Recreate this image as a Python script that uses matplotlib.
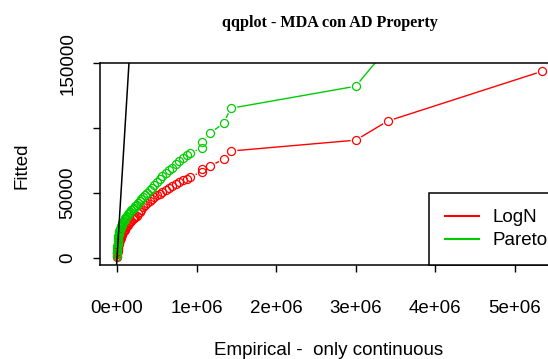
"""
Q-Q plot of the MDA sample against fitted LogN and Pareto quantiles.

"""
import matplotlib
matplotlib.use("Agg")
import matplotlib.pyplot as plt
import numpy as np

# empirical quantiles (sorted sample), shared by both fits
empirical = np.array([
    0, 1, 2, 3, 5, 7, 9, 12, 15, 18, 22, 26, 30, 35, 40, 46, 52, 60, 68,
    76, 85, 95, 105, 116, 128, 140, 152, 165, 180, 195, 210, 228, 246,
    265, 285, 305, 330, 355, 380, 410, 440, 470, 500, 535, 570, 610, 650,
    690, 735, 780, 830, 880, 920, 1070, 1070, 1170, 1340, 1430, 3000,
    3400, 5340]) * 1e3

# fitted quantiles, lognormal
fitted_logn = np.array([
    0.5, 1.5, 2.5, 3.5, 4.5, 5.5, 6.5, 7.5, 8.5, 9.5, 10.5, 11.5, 12.5,
    13.5, 14.5, 15.5, 16.5, 17.5, 18.5, 19.5, 20.5, 21.5, 22.5, 23.5,
    24.5, 25.5, 26.5, 27.5, 28.5, 29.5, 30.5, 31.5, 32.5, 34.5, 35.5,
    37.0, 39.0, 40.5, 42.0, 43.5, 45.0, 46.5, 48.0, 49.5, 51.0, 52.5,
    54.0, 55.5, 57.0, 58.5, 60.0, 61.0, 62.3, 66.5, 68.5, 70.7, 76.1,
    82.3, 90.7, 105.4, 143.8]) * 1e3

# fitted quantiles, Pareto
fitted_pareto = np.array([
    1.5, 4.0, 6.0, 7.5, 9.0, 10.5, 12.0, 13.5, 15.0, 16.5, 18.0, 19.5,
    20.5, 21.5, 22.5, 23.5, 24.5, 25.5, 26.5, 27.5, 28.5, 29.5, 30.5,
    31.5, 32.5, 33.5, 34.5, 35.5, 36.5, 37.5, 38.5, 40.0, 41.0, 42.5,
    44.0, 45.5, 47.0, 48.5, 50.0, 52.0, 54.0, 56.0, 58.5, 61.0, 63.0,
    65.5, 67.5, 69.5, 72.0, 75.0, 77.0, 79.0, 81.0, 84.6, 89.2, 96.1,
    103.8, 115.3, 132.3, 162.0, 205.0]) * 1e3

series_names = ["LogN", "Pareto"]
series_colors = ["#ff0000", "#00cd00"]

x_ticks = [0, 1e6, 2e6, 3e6, 4e6, 5e6]
x_tick_labels = ["0e+00", "1e+06", "2e+06", "3e+06", "4e+06", "5e+06"]
y_ticks = [0, 50000, 100000, 150000]
y_tick_labels = ["0", "50000", "", "150000"]

SANS = "Liberation Sans"
SERIF = "Liberation Serif"
FS = 13.5


def draw_series(ax, x, y, color, zorder):
    """Points joined by lines, with small gaps round each point."""
    ax.plot(x, y, '-', color=color, lw=1.0, zorder=zorder)
    return x, y


fig = plt.figure(figsize=(5.48, 3.59), dpi=100)
ax = fig.add_axes([100 / 548, 1 - 265 / 359, 459 / 548, 202 / 359])

fits = [fitted_logn, fitted_pareto]
for fit, color in zip(fits, series_colors):
    draw_series(ax, empirical, fit, color, 2)
# white discs break the lines around the points
for fit in fits:
    ax.plot(empirical, fit, 'o', ms=8.5, mfc='white', mec='none', zorder=3)
handles = []
for fit, color in zip(fits, series_colors):
    ax.plot(empirical, fit, 'o', ms=5.8, mfc='none', mec=color, mew=0.9,
            zorder=4)
    handles.append(plt.Line2D([], [], color=color, lw=1.5))

ax.axline((0, 0), slope=1, color='black', lw=1.1, zorder=5)

ax.set_xlim(-0.214e6, 5.554e6)
ax.set_ylim(-5630, 150230)

ax.set_xticks(x_ticks)
ax.set_xticklabels(x_tick_labels, fontsize=FS, family=SANS)
ax.set_yticks(y_ticks)
ax.set_yticklabels(y_tick_labels, fontsize=FS, family=SANS, rotation=90,
                   va='center')
ax.tick_params(axis='both', direction='out', length=5, width=1.0)
ax.tick_params(axis='x', pad=20)
ax.tick_params(axis='y', pad=12)
for spine in ax.spines.values():
    spine.set_linewidth(1.1)

ax.set_title("qqplot - MDA con AD Property", family=SERIF,
             fontweight='bold', fontsize=11.6, pad=26)
ax.set_xlabel("Empirical -  only continuous", fontsize=FS, family=SANS)
ax.xaxis.set_label_coords(0.497, -0.424)
ax.xaxis.label.set_va('center')
ax.set_ylabel("Fitted", fontsize=FS, family=SANS)
ax.yaxis.set_label_coords(-0.170, 0.49)
ax.yaxis.label.set_va('center')

legend = ax.legend(handles, series_names, loc='lower right',
                   bbox_to_anchor=(1.011, 0), borderaxespad=0,
                   fancybox=False, edgecolor='black', framealpha=1,
                   handlelength=1.8, handletextpad=0.75, borderpad=0.85,
                   labelspacing=0.3, prop={'family': SANS, 'size': FS})
legend.get_frame().set_linewidth(1.1)

fig.savefig("out.png", dpi=100)
